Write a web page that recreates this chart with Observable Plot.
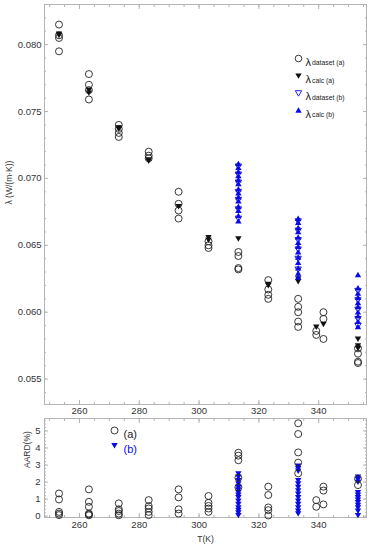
<!DOCTYPE html>
<html><head><meta charset="utf-8">
<script src="https://cdn.jsdelivr.net/npm/d3@7"></script>
<script src="https://cdn.jsdelivr.net/npm/@observablehq/plot@0.6"></script>
<style>
html,body{margin:0;padding:0;background:#fff;}
#chart{width:373px;height:550px;}
#chart svg{display:block;overflow:visible;}
</style></head><body><div id="chart"></div>
<script>
// ---- data ----
const temps = [253.15, 263.15, 273.15, 283.15, 293.15, 303.15, 313.15, 323.15, 333.15, 339.2, 341.6, 353.15];
const lamDatasetA = [
  [0.0815, 0.0807, 0.0805, 0.0795],
  [0.0778, 0.0770, 0.0766, 0.0759],
  [0.0740, 0.0737, 0.0734, 0.0731],
  [0.0720, 0.0717, 0.0715],
  [0.0690, 0.0681, 0.0676, 0.0670],
  [0.0653, 0.0650, 0.0648],
  [0.0645, 0.0642, 0.0633, 0.0632],
  [0.0624, 0.0617, 0.0613, 0.0610],
  [0.0610, 0.0604, 0.0600, 0.0593, 0.0589],
  [0.0586, 0.0583],
  [0.0600, 0.0595, 0.0580],
  [0.0573, 0.0569, 0.0563, 0.0562]
];
const lamCalcA = [
  [0.0808, 0.0807],
  [0.0766, 0.0764],
  [0.0738, 0.0737],
  [0.0714, 0.0713],
  [0.0679],
  [0.0656, 0.0654],
  [0.0655],
  [0.0621, 0.0620],
  [0.0625, 0.0623],
  [0.0589],
  [0.0591],
  [0.0580, 0.0575, 0.0573]
];
const tempsB = [313.15, 333.15, 353.15];
const lamDatasetB = [
  [0.0709, 0.0703, 0.0697, 0.0690, 0.0684, 0.0677, 0.0670],
  [0.0668, 0.0661, 0.0654, 0.0647, 0.0640, 0.0632],
  [0.0616, 0.0609, 0.0602, 0.0595, 0.0590]
];
const lamCalcB = [
  [0.0711, 0.0708, 0.0705, 0.0702, 0.0699, 0.0696, 0.0692, 0.0689, 0.0686, 0.0683, 0.0679, 0.0676, 0.0672, 0.0668],
  [0.0670, 0.0667, 0.0663, 0.0660, 0.0656, 0.0652, 0.0649, 0.0645, 0.0641, 0.0637, 0.0633, 0.0629, 0.0626],
  [0.0628, 0.0618, 0.0614, 0.0611, 0.0607, 0.0604, 0.0600, 0.0597, 0.0593, 0.0589]
];
const aardA = [
  [1.33, 0.98, 0.25, 0.15, 0.06],
  [1.57, 0.84, 0.55, 0.15, 0.10, 0.05],
  [0.75, 0.40, 0.30, 0.15, 0.05],
  [0.94, 0.59, 0.45, 0.25, 0.06],
  [1.57, 1.10, 0.40, 0.15],
  [1.18, 0.78, 0.60, 0.45, 0.25],
  [3.72, 3.55, 3.28, 2.25, 1.69],
  [1.73, 1.24, 0.51, 0.35, 0.04],
  [5.45, 4.82, 3.74, 3.14, 2.51],
  [0.94, 0.55],
  [1.73, 1.50, 0.69],
  [2.20, 1.82]
];
const aardB = [
  [2.50, 2.30, 2.10, 1.90, 1.70, 1.55, 1.40, 1.25, 1.10, 0.90, 0.70, 0.50, 0.35, 0.20, 0.05],
  [2.95, 2.80, 2.65, 2.10, 1.90, 1.70, 1.50, 1.30, 1.10, 0.90, 0.70, 0.50, 0.30, 0.15],
  [2.30, 2.15, 2.00, 1.40, 1.25, 1.10, 0.95, 0.80, 0.65, 0.50, 0.30, 0.05]
];
const xTickLabels = [260, 280, 300, 320, 340];
const yTickLabelsTop = [0.055, 0.060, 0.065, 0.070, 0.075, 0.080];
const yTickLabelsBottom = [0, 1, 2, 3, 4, 5];
const legendTop = ["dataset (a)", "calc (a)", "dataset (b)", "calc (b)"];
const legendBottom = ["(a)", "(b)"];

// ---- helpers ----
const flat = (ts, groups) => groups.flatMap((g, i) => g.map(v => ({T: ts[i], v})));
const triDown = {draw(c, size) {const r = Math.sqrt(size / Math.PI); c.moveTo(-r, -r * 0.75); c.lineTo(r, -r * 0.75); c.lineTo(0, r * 0.95); c.closePath();}};
const triUp = {draw(c, size) {const r = Math.sqrt(size / Math.PI); c.moveTo(-r, r * 0.75); c.lineTo(r, r * 0.75); c.lineTo(0, -r * 0.95); c.closePath();}};
const BLUE = "#0a0ae6";
const FRAME = "#b4b4b4";
const TXT = "#333";
const xMinor = d3.range(250, 356, 5);

function frameTicks(yMajor, yMinor) {
  const m = [];
  for (const anchor of ["bottom", "top"]) {
    m.push(Plot.axisX({anchor, ticks: xTickLabels, tickSize: -4, fill: "none", stroke: FRAME, label: null}));
    m.push(Plot.axisX({anchor, ticks: xMinor, tickSize: -2, fill: "none", stroke: FRAME, label: null}));
  }
  for (const anchor of ["left", "right"]) {
    m.push(Plot.axisY({anchor, ticks: yMajor, tickSize: -4, fill: "none", stroke: FRAME, label: null}));
    m.push(Plot.axisY({anchor, ticks: yMinor, tickSize: -2, fill: "none", stroke: FRAME, label: null}));
  }
  return m;
}

// ---- top panel ----
const legendMarks = [];
legendTop.forEach((lab, i) => {
  const dy = 54 + i * 17.3;
  const sym = i === 0 ? {symbol: "circle", r: 3.3, fill: "none", stroke: "#222", strokeWidth: 0.9}
    : i === 1 ? {symbol: triDown, r: 3.2, fill: "#111", stroke: "none"}
    : i === 2 ? {symbol: triDown, r: 3.2, fill: "none", stroke: BLUE, strokeWidth: 0.9}
    : {symbol: triUp, r: 3.2, fill: BLUE, stroke: "none"};
  legendMarks.push(Plot.dot([lab], {frameAnchor: "top-left", dx: 254, dy, ...sym}));
  legendMarks.push(Plot.text(["λ"], {frameAnchor: "top-left", dx: 261, dy: dy - 0.5, text: d => d, textAnchor: "start", fontSize: 11, fill: "#222"}));
  legendMarks.push(Plot.text([lab], {frameAnchor: "top-left", dx: 267.5, dy: dy + 2, text: d => d, textAnchor: "start", fontSize: 6.8, fill: "#222"}));
});

const topPanel = Plot.plot({
  width: 373, height: 416,
  marginTop: 4, marginBottom: 12, marginLeft: 44, marginRight: 7,
  style: {fontFamily: "'Liberation Sans', Arial, sans-serif", fontSize: "9.5px", color: TXT, background: "#fff"},
  x: {domain: [248.3, 356]},
  y: {domain: [0.0531, 0.0830]},
  marks: [
    Plot.frame({stroke: FRAME}),
    ...frameTicks(yTickLabelsTop, d3.range(54, 83).map(d => d / 1000)),
    Plot.axisX({anchor: "bottom", ticks: xTickLabels, tickSize: 0, tickPadding: 3, label: null, stroke: "none"}),
    Plot.axisY({anchor: "left", ticks: yTickLabelsTop, tickSize: 0, tickPadding: 3, tickFormat: d3.format(".3f"), label: null, stroke: "none"}),
    Plot.text(["λ (W/(m·K))"], {frameAnchor: "left", dx: -35, rotate: -90, text: d => d, fontSize: 8.5, fill: TXT}),
    Plot.dot(flat(temps, lamDatasetA), {x: "T", y: "v", r: 3.5, fill: "none", stroke: "#222", strokeWidth: 0.9}),
    Plot.dot(flat(temps, lamCalcA), {x: "T", y: "v", r: 3.2, symbol: triDown, fill: "#111", stroke: "none"}),
    Plot.dot(flat(tempsB, lamDatasetB), {x: "T", y: "v", r: 3.2, symbol: triDown, fill: "none", stroke: BLUE, strokeWidth: 0.9}),
    Plot.dot(flat(tempsB, lamCalcB), {x: "T", y: "v", r: 3.2, symbol: triUp, fill: BLUE, stroke: "none"}),
    ...legendMarks
  ]
});

// ---- bottom panel ----
const bottomPanel = Plot.plot({
  width: 373, height: 134,
  marginTop: 2, marginBottom: 33, marginLeft: 44, marginRight: 7,
  style: {fontFamily: "'Liberation Sans', Arial, sans-serif", fontSize: "9.5px", color: TXT, background: "#fff"},
  x: {domain: [248.3, 356]},
  y: {domain: [-0.08, 5.73]},
  marks: [
    Plot.frame({stroke: FRAME}),
    ...frameTicks(yTickLabelsBottom, d3.range(0, 5.8, 0.2)),
    Plot.axisX({anchor: "bottom", ticks: xTickLabels, tickSize: 0, tickPadding: 4, label: null, stroke: "none"}),
    Plot.axisY({anchor: "left", ticks: yTickLabelsBottom, tickSize: 0, tickPadding: 4, tickFormat: d3.format("d"), label: null, stroke: "none"}),
    Plot.text(["AARD(%)"], {frameAnchor: "left", dx: -17, rotate: -90, text: d => d, fontSize: 8.5, fill: TXT}),
    Plot.text(["T(K)"], {frameAnchor: "bottom", dy: 24, text: d => d, fontSize: 8.5, fill: TXT}),
    Plot.dot(flat(tempsB, aardB), {x: "T", y: "v", r: 3.2, symbol: triDown, fill: BLUE, stroke: "none"}),
    Plot.dot(flat(temps, aardA), {x: "T", y: "v", r: 3.5, fill: "none", stroke: "#222", strokeWidth: 0.9}),
    Plot.dot([legendBottom[0]], {frameAnchor: "top-left", dx: 70, dy: 12, r: 3.5, fill: "none", stroke: "#222", strokeWidth: 0.9}),
    Plot.text([legendBottom[0]], {frameAnchor: "top-left", dx: 79, dy: 11.5, text: d => d, textAnchor: "start", fontSize: 11, fill: "#222"}),
    Plot.dot([legendBottom[1]], {frameAnchor: "top-left", dx: 70, dy: 27, r: 3.2, symbol: triDown, fill: BLUE, stroke: "none"}),
    Plot.text([legendBottom[1]], {frameAnchor: "top-left", dx: 79, dy: 26.5, text: d => d, textAnchor: "start", fontSize: 11, fill: BLUE})
  ]
});

const chart = document.getElementById("chart");
chart.appendChild(topPanel);
chart.appendChild(bottomPanel);
</script></body></html>
